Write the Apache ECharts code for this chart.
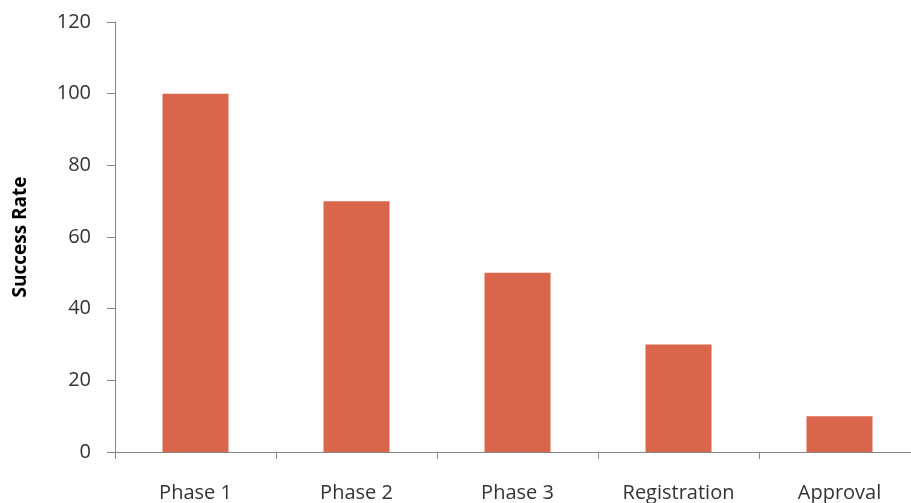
<!DOCTYPE html>
<html>
<head>
<meta charset="utf-8">
<script src="https://cdn.jsdelivr.net/npm/echarts@6/dist/echarts.min.js"></script>
<style>
html,body{margin:0;padding:0;background:#fff;overflow:hidden;width:911px;height:503px;}
#c{width:920px;height:503px;}
</style>
</head>
<body>
<div id="c"></div>
<script>
const categories = ['Phase 1', 'Phase 2', 'Phase 3', 'Registration', 'Approval'];
const successRate = [100, 70, 50, 30, 10];
const yTicks = { min: 0, max: 120, interval: 20 };

const chart = echarts.init(document.getElementById('c'), null, { renderer: 'canvas' });
chart.setOption({
  animation: false,
  backgroundColor: '#fff',
  grid: { left: 115, right: 0, top: 22, bottom: 51, containLabel: false },
  xAxis: {
    type: 'category',
    data: categories,
    axisLine: { lineStyle: { color: '#868686', width: 1 } },
    axisTick: { show: true, alignWithLabel: false, length: 7, inside: false, lineStyle: { color: '#868686' } },
    axisLabel: { color: '#333', fontSize: 20, fontFamily: 'Open Sans', margin: 31 }
  },
  yAxis: {
    type: 'value',
    min: yTicks.min, max: yTicks.max, interval: yTicks.interval,
    name: 'Success Rate',
    nameLocation: 'middle',
    nameGap: 85,
    nameRotate: 90,
    nameTextStyle: { color: '#000', fontSize: 19, fontWeight: 'bold', fontFamily: 'Open Sans' },
    axisLine: { show: true, lineStyle: { color: '#868686', width: 1 } },
    axisTick: { show: true, length: 8, lineStyle: { color: '#868686' } },
    splitLine: { show: false },
    axisLabel: { color: '#333', fontSize: 20, fontFamily: 'Open Sans', margin: 24 }
  },
  series: [{
    type: 'bar',
    data: successRate,
    barWidth: '41%',
    itemStyle: { color: '#D9654A' }
  }]
});
</script>
</body>
</html>
